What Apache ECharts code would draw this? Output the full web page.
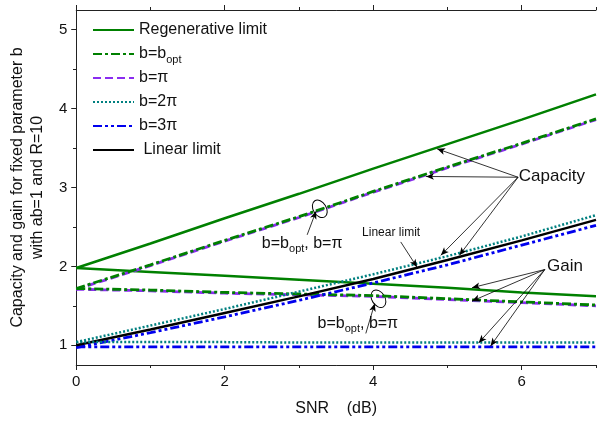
<!DOCTYPE html>
<html>
<head>
<meta charset="utf-8">
<script src="https://cdn.jsdelivr.net/npm/echarts@6/dist/echarts.min.js"></script>
<style>
  html, body { margin: 0; padding: 0; background: #fff; }
  #chart { width: 597px; height: 422px; }
</style>
</head>
<body>
<div id="chart"></div>
<script>
// SNR (dB) sample points
const snr = [0, 1, 2, 3, 4, 5, 6, 7];

// values
const regenCapacity = [1.98, 2.29, 2.61, 2.92, 3.24, 3.55, 3.86, 4.18];
const regenGain = [1.98, 1.93, 1.88, 1.83, 1.78, 1.73, 1.67, 1.62];
const boptCapacity = [1.72, 2.02, 2.33, 2.63, 2.95, 3.26, 3.56, 3.87];
const boptGain = [1.72, 1.70, 1.67, 1.65, 1.63, 1.59, 1.55, 1.51];
const piCapacity = [1.71, 2.01, 2.32, 2.62, 2.94, 3.25, 3.55, 3.86];
const piGain = [1.71, 1.69, 1.66, 1.64, 1.62, 1.58, 1.54, 1.50];
const twoPiCapacity = [1.04, 1.25, 1.46, 1.68, 1.90, 2.13, 2.38, 2.65];
const twoPiGain = [1.04, 1.04, 1.04, 1.035, 1.035, 1.035, 1.035, 1.035];
const threePiCapacity = [0.97, 1.16, 1.36, 1.57, 1.79, 2.02, 2.27, 2.52];
const threePiGain = [0.98, 0.98, 0.98, 0.98, 0.98, 0.98, 0.98, 0.98];
const linearCapacity = [1.00, 1.20, 1.41, 1.62, 1.84, 2.08, 2.33, 2.59];

const legendNames = ["Regenerative limit", "b=bopt", "b=π", "b=2π", "b=3π", "Linear limit"];
const xTicks = [0, 2, 4, 6];
const xMinorTicks = [1, 3, 5, 7];
const yTicks = [1, 2, 3, 4, 5];
const yMinorTicks = [1.5, 2.5, 3.5, 4.5];

// annotation arrows: [fromX, fromY, toX, toY] in data units
const capacityArrows = [[5.95, 3.13, 4.86, 3.49], [5.95, 3.13, 4.71, 3.14], [5.95, 3.13, 4.91, 2.14], [5.95, 3.13, 5.16, 2.14]];
const gainArrows = [[6.31, 1.96, 5.33, 1.73], [6.31, 1.96, 5.33, 1.56], [6.31, 1.96, 5.42, 1.03], [6.31, 1.96, 5.58, 0.99]];
const otherArrows = [[4.37, 2.31, 4.59, 1.99], [3.11, 2.40, 3.23, 2.70], [3.90, 1.15, 4.02, 1.53]];

const FONT = 'Arial, "Liberation Sans", sans-serif';
const pairs = (ys) => snr.map((x, i) => [x, ys[i]]);

const chart = echarts.init(document.getElementById("chart"));

function lineSeries(name, data, color, type, width) {
  return {
    name: name,
    type: "line",
    data: pairs(data),
    symbol: "none",
    smooth: false,
    lineStyle: { color: color, width: width, type: type },
    itemStyle: { color: color },
    emphasis: { disabled: true },
  };
}

const arrowData = capacityArrows.concat(gainArrows, otherArrows).map((a) => [
  { coord: [a[0], a[1]] },
  { coord: [a[2], a[3]] },
]);

const series = [
  lineSeries("Regenerative limit", regenCapacity, "#008000", "solid", 2.5),
  lineSeries("Regenerative limit", regenGain, "#008000", "solid", 2.5),
  lineSeries("b=π", piCapacity, "#8a2cf0", [8, 4], 2.8),
  lineSeries("b=π", piGain, "#8a2cf0", [8, 4], 2.8),
  lineSeries("b=bopt", boptCapacity, "#008000", [9, 3, 3, 3], 2.8),
  lineSeries("b=bopt", boptGain, "#008000", [9, 3, 3, 3], 2.8),
  lineSeries("b=3π", threePiCapacity, "#0000ee", [9, 3, 3, 3, 3, 3], 2.8),
  lineSeries("b=3π", threePiGain, "#0000ee", [9, 3, 3, 3, 3, 3], 2.8),
  lineSeries("Linear limit", linearCapacity, "#000000", "solid", 2.5),
  lineSeries("b=2π", twoPiCapacity, "#008080", [2, 2], 2.5),
  lineSeries("b=2π", twoPiGain, "#008080", [2, 2], 2.5),
];
series[series.length - 1].markLine = {
  silent: true,
  animation: false,
  symbol: ["none", "arrow"],
  symbolSize: [5, 8],
  label: { show: false },
  lineStyle: { color: "#000", width: 0.8, type: "solid" },
  emphasis: { disabled: true },
  data: arrowData,
};

const gridBox = { left: 76, right: 1, top: 10, bottom: 57 };

const option = {
  animation: false,
  backgroundColor: "#fff",
  textStyle: { fontFamily: FONT, color: "#111" },
  grid: [
    Object.assign({}, gridBox),
    Object.assign({}, gridBox),
  ],
  legend: {
    data: legendNames,
    orient: "vertical",
    left: 92,
    top: 19,
    padding: 0,
    itemWidth: 41,
    itemHeight: 14,
    itemGap: 2,
    selectedMode: false,
    // hide the marker dot, keep only the line sample
    itemStyle: { color: "rgba(0,0,0,0)", borderWidth: 0, opacity: 0 },
    formatter: function (name) {
      if (name === "b=bopt") return "b=b{s|opt}";
      if (name === "Linear limit") return " Linear limit";
      return name;
    },
    textStyle: {
      fontFamily: FONT,
      fontSize: 16,
      lineHeight: 22,
      color: "#111",
      rich: {
        s: { fontSize: 11, lineHeight: 6, verticalAlign: "bottom", fontFamily: FONT, color: "#111" },
      },
    },
  },
  xAxis: [
    {
      type: "value",
      gridIndex: 0,
      position: "bottom",
      min: 0,
      max: 7,
      name: "SNR    (dB)",
      nameLocation: "middle",
      nameGap: 36,
      nameTextStyle: { fontSize: 16, fontFamily: FONT, color: "#111" },
      axisLine: { show: true, lineStyle: { color: "#222", width: 1 } },
      axisTick: { show: true, customValues: xTicks, length: 5, lineStyle: { color: "#222" } },
      axisLabel: { customValues: xTicks, fontSize: 15, margin: 9, color: "#111" },
      splitLine: { show: false },
    },
    {
      type: "value",
      gridIndex: 0,
      position: "top",
      min: 0,
      max: 7,
      axisLine: { show: true, lineStyle: { color: "#222", width: 1 } },
      axisTick: { show: true, customValues: xTicks, length: 5, lineStyle: { color: "#222" } },
      axisLabel: { show: false },
      splitLine: { show: false },
    },
    {
      type: "value",
      gridIndex: 1,
      position: "bottom",
      min: 0,
      max: 7,
      axisLine: { show: false },
      axisTick: { show: true, customValues: xMinorTicks, length: 3, lineStyle: { color: "#222" } },
      axisLabel: { show: false },
      splitLine: { show: false },
    },
    {
      type: "value",
      gridIndex: 1,
      position: "top",
      min: 0,
      max: 7,
      axisLine: { show: false },
      axisTick: { show: true, customValues: xMinorTicks, length: 3, lineStyle: { color: "#222" } },
      axisLabel: { show: false },
      splitLine: { show: false },
    },
  ],
  yAxis: [
    {
      type: "value",
      gridIndex: 0,
      position: "left",
      min: 0.75,
      max: 5.25,
      name: "Capacity and gain for fixed parameter b\nwith ab=1 and R=10",
      nameLocation: "middle",
      nameGap: 22,
      nameTextStyle: { fontSize: 16, lineHeight: 20, fontFamily: FONT, color: "#111" },
      axisLine: { show: true, lineStyle: { color: "#222", width: 1 } },
      axisTick: { show: true, customValues: yTicks, length: 5, lineStyle: { color: "#222" } },
      axisLabel: { customValues: yTicks, fontSize: 15, margin: 9, color: "#111" },
      splitLine: { show: false },
    },
    {
      type: "value",
      gridIndex: 0,
      position: "right",
      min: 0.75,
      max: 5.25,
      axisLine: { show: true, lineStyle: { color: "#222", width: 1 } },
      axisTick: { show: false },
      axisLabel: { show: false },
      splitLine: { show: false },
    },
    {
      type: "value",
      gridIndex: 1,
      position: "left",
      min: 0.75,
      max: 5.25,
      axisLine: { show: false },
      axisTick: { show: true, customValues: yMinorTicks, length: 3, lineStyle: { color: "#222" } },
      axisLabel: { show: false },
      splitLine: { show: false },
    },
  ],
  series: series,
};

chart.setOption(option);

// text notes and ellipses placed through the axis scales
const toPx = (x, y) => chart.convertToPixel({ gridIndex: 0 }, [x, y]);
const noteRich = { s: { fontSize: 11, lineHeight: 6, verticalAlign: "bottom", fontFamily: FONT, fill: "#111" } };

function note(text, x, y, size, rich) {
  const p = toPx(x, y);
  return {
    type: "text",
    x: p[0],
    y: p[1],
    silent: true,
    style: {
      text: text,
      fontSize: size,
      fontFamily: FONT,
      fill: "#111",
      align: "left",
      verticalAlign: "middle",
      lineHeight: 22,
      rich: rich,
    },
  };
}

function ring(x, y) {
  const p = toPx(x, y);
  return {
    type: "ellipse",
    x: p[0],
    y: p[1],
    rotation: 0.55,
    silent: true,
    shape: { cx: 0, cy: 0, rx: 6.5, ry: 9.5 },
    style: { fill: "none", stroke: "#000", lineWidth: 1 },
  };
}

chart.setOption({
  graphic: [
    note("Capacity", 5.96, 3.14, 17),
    note("Gain", 6.34, 2.0, 17),
    note("Linear limit", 3.85, 2.43, 12),
    note("b=b{s|opt}, b=π", 2.5, 2.295, 16, noteRich),
    note("b=b{s|opt}, b=π", 3.25, 1.28, 16, noteRich),
    ring(3.28, 2.73),
    ring(4.07, 1.59),
  ],
});
</script>
</body>
</html>
